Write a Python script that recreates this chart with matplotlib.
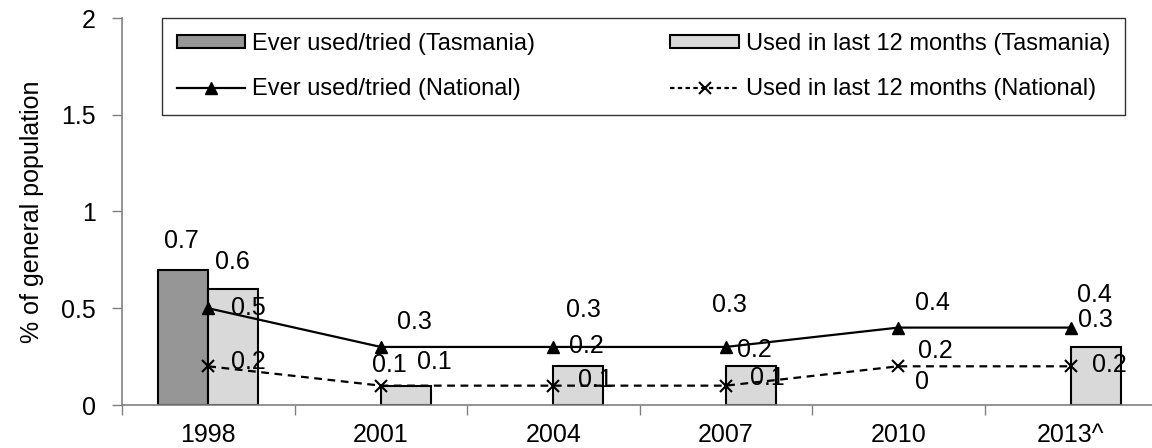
import numpy as np
import matplotlib
matplotlib.use("Agg")
import matplotlib.pyplot as plt
from matplotlib.patches import Patch
from matplotlib.lines import Line2D

plt.rcParams['font.family'] = ['Liberation Sans', 'DejaVu Sans']

years = ["1998", "2001", "2004", "2007", "2010", "2013^"]
ever_tas = [0.7, np.nan, np.nan, np.nan, np.nan, np.nan]
last12_tas = [0.6, 0.1, 0.2, 0.2, 0.0, 0.3]
ever_nat = [0.5, 0.3, 0.3, 0.3, 0.4, 0.4]
last12_nat = [0.2, 0.1, 0.1, 0.1, 0.2, 0.2]

# label offsets in pixels (dx, dy) as they sit in the original
off_ever_tas = [(-2, 29)]
off_last12_tas = [(-1, 27), (29, 24), (8, 20), (4, 16), (-1, 23), (0, 27)]
off_ever_nat = [(40, 0), (34, 25), (30, 37), (4, 42), (34, 25), (24, 33)]
off_last12_nat = [(40, 4), (9, 21), (42, 6), (42, 8), (37, 15), (39, 1)]

dark = "#969696"
light = "#d9d9d9"
axis_col = "#808080"
fs = 18

fig = plt.figure(figsize=(11.52, 4.48), dpi=100)
ax = fig.add_axes([122 / 1152, 43 / 448, 1035 / 1152, 387 / 448])

x = np.arange(len(years))
w = 0.29
# zero-height bars get no outline (nothing shows in the original)
lw_light = [1.5 if v > 0 else 0 for v in last12_tas]
ax.bar(x - w / 2, ever_tas, w, color=dark, edgecolor="black", linewidth=1.5, zorder=2)
ax.bar(x + w / 2, last12_tas, w, color=light, edgecolor="black", linewidth=lw_light, zorder=2)
ax.plot(x, ever_nat, color="black", lw=1.6, marker="^", ms=9, zorder=3)
ax.plot(x, last12_nat, color="black", lw=1.6, ls=(0, (3.5, 2.5)), marker="x",
        ms=8, mew=1.5, zorder=3)


def put_labels(xs, vals, offs):
    for xi, v, (dx, dy) in zip(xs, vals, offs):
        if np.isnan(v):
            continue
        ax.annotate(f"{v:g}", (xi, v), xytext=(dx, dy), textcoords="offset pixels",
                    ha="center", va="center", fontsize=fs, zorder=4)


put_labels(x - w / 2, ever_tas, off_ever_tas)
put_labels(x + w / 2, last12_tas, off_last12_tas)
put_labels(x, ever_nat, off_ever_nat)
put_labels(x, last12_nat, off_last12_nat)

ax.set_xlim(-0.5, len(years) - 0.5)
ax.set_ylim(0, 2)
ax.set_yticks([0, 0.5, 1, 1.5, 2])
ax.set_yticklabels(["0", "0.5", "1", "1.5", "2"])
ax.set_xticks(x)
ax.set_xticklabels(years)
ax.set_xticks(np.arange(-0.5, len(years), 1), minor=True)
ax.tick_params(axis="x", which="major", length=0, pad=13, labelsize=fs)
ax.tick_params(axis="x", which="minor", length=7, color=axis_col, width=1)
ax.tick_params(axis="y", length=7, color=axis_col, width=1, pad=12, labelsize=fs)
for s in ["top", "right"]:
    ax.spines[s].set_visible(False)
for s in ["left", "bottom"]:
    ax.spines[s].set_color(axis_col)
    ax.spines[s].set_linewidth(1.2)
ax.set_ylabel("% of general population", fontsize=fs, labelpad=12)

handles = [
    Patch(facecolor=dark, edgecolor="black", linewidth=1.5),
    Line2D([], [], color="black", lw=1.6, marker="^", ms=9),
    Patch(facecolor=light, edgecolor="black", linewidth=1.5),
    Line2D([], [], color="black", lw=1.6, ls=(0, (2, 1.5)), marker="x", ms=8, mew=1.5),
]
labels = [
    "Ever used/tried (Tasmania)",
    "Ever used/tried (National)",
    "Used in last 12 months (Tasmania)",
    "Used in last 12 months (National)",
]
leg = ax.legend(handles, labels, ncol=2, fontsize=17, loc="upper left",
                bbox_to_anchor=((162 - 122) / 1035, 1.0, (1125 - 162) / 1035, 0),
                mode="expand", frameon=True, fancybox=False, edgecolor="black",
                borderpad=0.62, labelspacing=1.0, handlelength=2.9, handleheight=0.5,
                handletextpad=0.3, columnspacing=1.0, borderaxespad=0)
leg.get_frame().set_linewidth(1.0)

fig.savefig("out.png", dpi=100)
